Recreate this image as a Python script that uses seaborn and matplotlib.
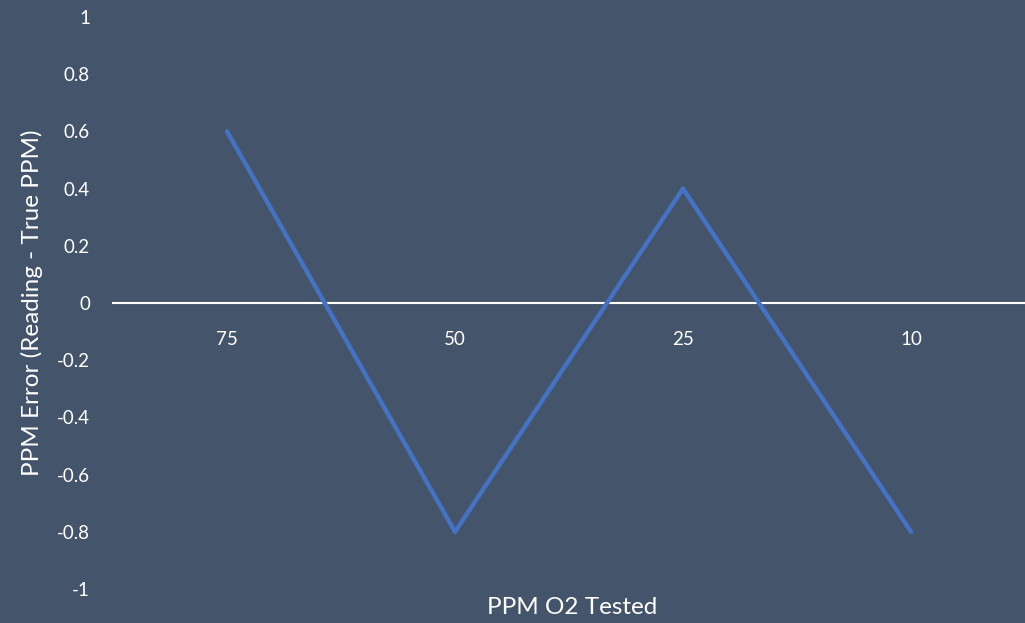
import numpy as np
import matplotlib.pyplot as plt
import seaborn as sns

ppm_tested = ['75', '50', '25', '10']
ppm_error = [0.6, -0.8, 0.4, -0.8]

bg = '#44546A'
line_color = '#4472C4'

sns.set_style('white')
plt.rcParams['font.family'] = ['Lato', 'DejaVu Sans']

fig = plt.figure(figsize=(10.25, 6.23), dpi=100, facecolor=bg)
ax = fig.add_axes([113 / 1025, 1 - 589 / 623, 1 - 113 / 1025, (589 - 17) / 623])
ax.set_facecolor(bg)

x = np.arange(len(ppm_tested))
sns.lineplot(x=x, y=ppm_error, ax=ax, color=line_color, linewidth=3.2)

ax.set_xlim(-0.5, len(ppm_tested) - 0.5)
ax.set_ylim(-1, 1)
ax.set_xticks(x)
ax.set_xticklabels(ppm_tested)
ax.set_yticks(np.arange(-1, 1.01, 0.2))
ax.set_yticklabels(['-1', '-0.8', '-0.6', '-0.4', '-0.2', '0', '0.2', '0.4', '0.6', '0.8', '1'])

for side in ['top', 'right', 'left']:
    ax.spines[side].set_visible(False)
ax.spines['bottom'].set_position(('data', 0))
ax.spines['bottom'].set_color('white')
ax.spines['bottom'].set_linewidth(1.5)
ax.spines['bottom'].set_zorder(1)

ax.tick_params(axis='x', length=0, pad=20, labelsize=13.5, colors='white')
ax.tick_params(axis='y', length=0, pad=16.5, labelsize=13.5, colors='white')

ax.set_ylabel('PPM Error (Reading - True PPM)', color='white', fontsize=17.5, labelpad=10)
fig.text(572 / 1025, 1 - 608 / 623, 'PPM O2 Tested', color='white', fontsize=17.5,
         ha='center', va='center')

plt.savefig('out.png', dpi=100, facecolor=bg)
